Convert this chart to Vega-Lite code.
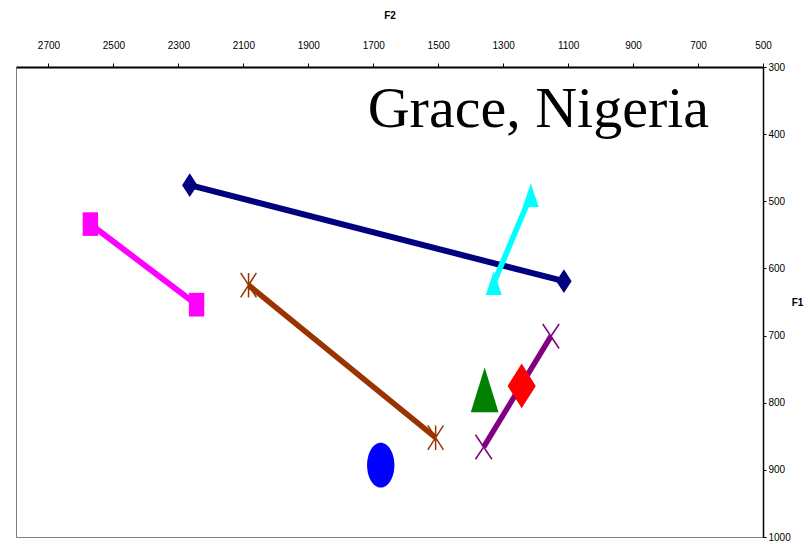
{
  "$schema": "https://vega.github.io/schema/vega-lite/v6.json",
  "autosize": {"type": "none"},
  "padding": {"left": 16, "top": 67, "right": 47, "bottom": 7},
  "width": 747,
  "height": 470,
  "background": "white",
  "config": {
    "view": {"stroke": "#808080", "strokeWidth": 1},
    "font": "Liberation Sans Narrow, Liberation Sans, Arial, sans-serif"
  },
  "datasets": {
    "pts": [
      {"series": "s1", "F2": 2265, "F1": 476},
      {"series": "s1", "F2": 1113, "F1": 619},
      {"series": "s2", "F2": 2571, "F1": 534},
      {"series": "s2", "F2": 2244, "F1": 654},
      {"series": "s3", "F2": 2084, "F1": 625},
      {"series": "s3", "F2": 1508, "F1": 852},
      {"series": "s4", "F2": 1215, "F1": 491},
      {"series": "s4", "F2": 1329, "F1": 622},
      {"series": "s5", "F2": 1153, "F1": 701},
      {"series": "s5", "F2": 1360, "F1": 866},
      {"series": "s6", "F2": 1357, "F1": 781},
      {"series": "s7", "F2": 1243, "F1": 775},
      {"series": "s8", "F2": 1677, "F1": 893}
    ],
    "label": [
      {"text": "Grace, Nigeria", "F2": 666, "F1": 389}
    ]
  },
  "layer": [
    {
      "data": {"name": "pts"},
      "mark": {"type": "line", "strokeCap": "butt"},
      "encoding": {
        "x": {
          "field": "F2", "type": "quantitative",
          "scale": {"domain": [500, 2800], "reverse": true, "nice": false, "zero": false},
          "axis": {
            "orient": "top", "title": "F2", "values": [2700, 2500, 2300, 2100, 1900, 1700, 1500, 1300, 1100, 900, 700, 500],
            "format": "d",
            "grid": false, "tickSize": 4, "tickColor": "#000", "tickWidth": 1,
            "domainColor": "#000", "domainWidth": 2,
            "labelFontSize": 10, "labelColor": "#000", "labelPadding": 13, "labelFlush": false,
            "titleFontSize": 10, "titleFontWeight": "bold", "titleColor": "#000", "titlePadding": 20
          }
        },
        "y": {
          "field": "F1", "type": "quantitative",
          "scale": {"domain": [300, 1000], "reverse": true, "nice": false, "zero": false},
          "axis": {
            "orient": "right", "title": "F1", "values": [300, 400, 500, 600, 700, 800, 900, 1000],
            "format": "d",
            "grid": false, "tickSize": 3, "tickColor": "#000", "tickWidth": 1,
            "domainColor": "#000", "domainWidth": 1.5,
            "labelFontSize": 10, "labelColor": "#000", "labelPadding": 2, "labelFlush": false, "labelAlign": "left",
            "titleFontSize": 10, "titleFontWeight": "bold", "titleColor": "#000",
            "titleAngle": 0, "titleAlign": "left", "titleBaseline": "middle", "titlePadding": 1
          }
        },
        "detail": {"field": "series"},
        "color": {
          "field": "series", "type": "nominal", "legend": null,
          "scale": {"domain": ["s1", "s2", "s3", "s4", "s5", "s6", "s7", "s8"],
                    "range": ["#000080", "#FF00FF", "#993300", "#00FFFF", "#800080", "#008000", "#FF0000", "#0000FF"]}
        },
        "strokeWidth": {
          "field": "series", "type": "nominal", "legend": null,
          "scale": {"domain": ["s1", "s2", "s3", "s4", "s5", "s6", "s7", "s8"],
                    "range": [6, 5, 6, 5, 4.5, 1, 1, 1]}
        }
      }
    },
    {
      "data": {"name": "pts"},
      "transform": [{"filter": "datum.series == 's1' || datum.series == 's2' || datum.series == 's4'"}],
      "mark": {"type": "point", "filled": true, "opacity": 1, "strokeWidth": 0, "size": 560},
      "encoding": {
        "x": {"field": "F2", "type": "quantitative"},
        "y": {"field": "F1", "type": "quantitative"},
        "color": {"field": "series", "type": "nominal", "legend": null},
        "shape": {
          "field": "series", "type": "nominal", "legend": null,
          "scale": {"domain": ["s1", "s2", "s3", "s4", "s5", "s6", "s7", "s8"],
                    "range": [
                      "M0,-1L0.65,0L0,1L-0.65,0Z",
                      "M-0.65,-1L0.65,-1L0.65,1L-0.65,1Z",
                      "M-0.64,-1L0.64,1M0.64,-1L-0.64,1M0,-1L0,1",
                      "M0,-1L0.68,1L-0.68,1Z",
                      "M-0.67,-1L0.67,1M0.67,-1L-0.67,1",
                      "M0,-1L0.62,1L-0.62,1Z",
                      "M0,-1L0.63,0L0,1L-0.63,0Z",
                      "M-0.61,0A0.61,1 0 1,1 0.61,0A0.61,1 0 1,1 -0.61,0Z"
                    ]}
        }
      }
    },
    {
      "data": {"name": "pts"},
      "transform": [{"filter": "datum.series == 's6' || datum.series == 's7' || datum.series == 's8'"}],
      "mark": {"type": "point", "filled": true, "opacity": 1, "strokeWidth": 0, "size": 2000},
      "encoding": {
        "x": {"field": "F2", "type": "quantitative"},
        "y": {"field": "F1", "type": "quantitative"},
        "color": {"field": "series", "type": "nominal", "legend": null},
        "shape": {"field": "series", "type": "nominal", "legend": null}
      }
    },
    {
      "data": {"name": "pts"},
      "transform": [{"filter": "datum.series == 's3' || datum.series == 's5'"}],
      "mark": {"type": "point", "filled": false, "opacity": 1, "strokeWidth": 1.5, "size": 600},
      "encoding": {
        "x": {"field": "F2", "type": "quantitative"},
        "y": {"field": "F1", "type": "quantitative"},
        "color": {"field": "series", "type": "nominal", "legend": null},
        "shape": {"field": "series", "type": "nominal", "legend": null}
      }
    },
    {
      "data": {"name": "label"},
      "mark": {"type": "text", "align": "right", "baseline": "alphabetic", "font": "Liberation Serif", "fontSize": 58, "color": "#000"},
      "encoding": {
        "x": {"field": "F2", "type": "quantitative"},
        "y": {"field": "F1", "type": "quantitative"},
        "text": {"field": "text"}
      }
    }
  ]
}
